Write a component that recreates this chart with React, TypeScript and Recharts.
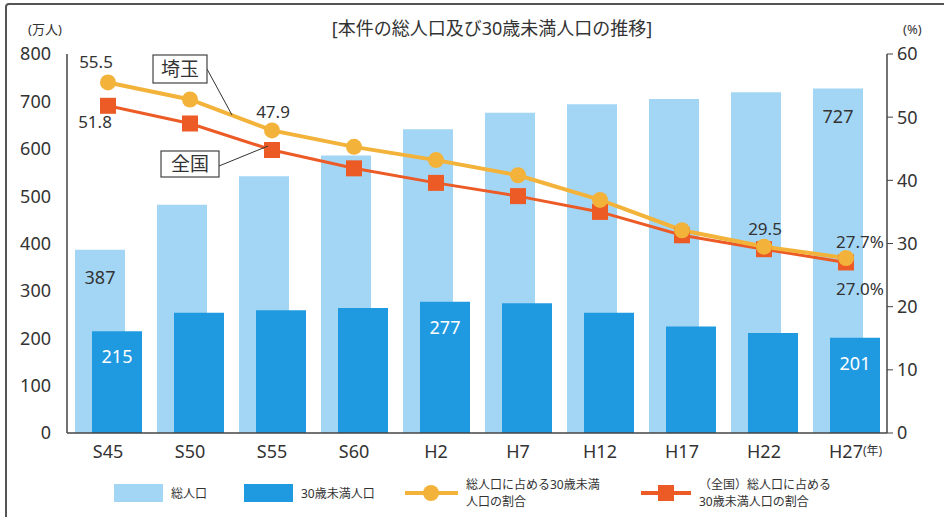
import { ComposedChart, Bar, Line, XAxis, YAxis, LabelList } from 'recharts';

const years = ['S45', 'S50', 'S55', 'S60', 'H2', 'H7', 'H12', 'H17', 'H22', 'H27'];
const totalPop = [387, 482, 542, 586, 641, 676, 694, 705, 719, 727];
const under30Pop = [215, 254, 259, 264, 277, 274, 254, 225, 211, 201];
const saitamaRate = [55.5, 52.8, 47.9, 45.3, 43.2, 40.8, 36.9, 32.1, 29.5, 27.7];
const nationalRate = [51.8, 49.0, 44.8, 41.9, 39.6, 37.5, 35.0, 31.3, 29.1, 27.0];
const leftTicks = [0, 100, 200, 300, 400, 500, 600, 700, 800];
const rightTicks = [0, 10, 20, 30, 40, 50, 60];

const data = years.map((year, i) => ({
  year,
  total: totalPop[i],
  under30: under30Pop[i],
  saitama: saitamaRate[i],
  national: nationalRate[i],
}));

const FONT = '"Noto Sans", "Noto Sans CJK JP", sans-serif';
const LIGHT = '#a3d6f5';
const DARK = '#1f9ae0';
const YELLOW = '#f3b33a';
const ORANGE = '#ec5b26';
const TEXT = '#333';

const last = years.length - 1;

const CircleDot = (props: any) => {
  const { cx, cy } = props;
  if (cx == null || cy == null) return null;
  return <circle cx={cx} cy={cy} r={8} fill={YELLOW} stroke="none" />;
};

const SquareDot = (props: any) => {
  const { cx, cy } = props;
  if (cx == null || cy == null) return null;
  return <rect x={cx - 8} y={cy - 8} width={16} height={16} fill={ORANGE} stroke="none" />;
};

const txt = { fontFamily: FONT, fontWeight: 400 } as const;

const totalLabel = (props: any) => {
  const { x, y, width, value, index } = props;
  if (index !== 0 && index !== last) return null;
  return (
    <text x={x + width / 2} y={y + 34} textAnchor="middle" fontSize={18} fill={TEXT} {...txt}>
      {value}
    </text>
  );
};

const under30Label = (props: any) => {
  const { x, y, width, value, index } = props;
  if (index !== 0 && index !== 4 && index !== last) return null;
  return (
    <text x={x + width / 2} y={y + 32} textAnchor="middle" fontSize={18} fill="#fff" {...txt}>
      {value}
    </text>
  );
};

const saitamaLabel = (props: any) => {
  const { x, y, value, index } = props;
  if (index === 0) {
    return <text x={x - 12} y={y - 14} textAnchor="middle" fontSize={17} fill={TEXT} {...txt}>{value}</text>;
  }
  if (index === 2 || index === 8) {
    return <text x={x + 1} y={y - 12} textAnchor="middle" fontSize={17} fill={TEXT} {...txt}>{value}</text>;
  }
  if (index === last) {
    return <text x={x + 14} y={y - 10} textAnchor="middle" fontSize={17} fill={TEXT} {...txt}>{value}%</text>;
  }
  return null;
};

const nationalLabel = (props: any) => {
  const { x, y, value, index } = props;
  if (index === 0) {
    return <text x={x - 13} y={y + 22} textAnchor="middle" fontSize={17} fill={TEXT} {...txt}>{value.toFixed(1)}</text>;
  }
  if (index === last) {
    return <text x={x + 14} y={y + 33} textAnchor="middle" fontSize={17} fill={TEXT} {...txt}>{value.toFixed(1)}%</text>;
  }
  return null;
};

const LegendItem = ({ left, swatch, label }: { left: number; swatch: any; label: any }) => (
  <div style={{ position: 'absolute', left, top: 0, height: 36, display: 'flex', alignItems: 'center' }}>
    {swatch}
    <div style={{ fontSize: 12, lineHeight: '17px', color: TEXT, marginLeft: 8, whiteSpace: 'nowrap' }}>{label}</div>
  </div>
);

const tickStyle = { fontSize: 18, fill: TEXT, fontFamily: FONT, fontWeight: 400 };

export default function App() {
  return (
    <div
      style={{
        position: 'absolute',
        left: 0,
        top: 0,
        width: 944,
        height: 517,
        background: '#fff',
        fontFamily: FONT,
        fontWeight: 400,
        overflow: 'hidden',
      }}
    >
      <div
        style={{
          position: 'absolute',
          left: 5,
          top: 3,
          width: 950,
          height: 530,
          border: '2px solid #555',
          borderRadius: 4,
          boxSizing: 'border-box',
        }}
      />
      <div style={{ position: 'absolute', left: 0, width: 944, top: 14, textAlign: 'center', fontSize: 18, color: TEXT, paddingLeft: 20 }}>
        [本件の総人口及び30歳未満人口の推移]
      </div>
      <div style={{ position: 'absolute', left: 28, top: 19, fontSize: 13, color: TEXT }}>(万人)</div>
      <div style={{ position: 'absolute', left: 903, top: 20, fontSize: 13, color: TEXT }}>(%)</div>
      <div style={{ position: 'absolute', left: 0, top: 0 }}>
        <ComposedChart
          width={944}
          height={517}
          data={data}
          margin={{ top: 54, right: 7, bottom: 54, left: 20 }}
          barGap={-33}
        >
          <XAxis
            dataKey="year"
            tickLine={false}
            axisLine={{ stroke: '#444', strokeWidth: 1.5 }}
            tick={tickStyle}
            tickMargin={6}
            height={30}
          />
          <YAxis
            yAxisId="left"
            domain={[0, 800]}
            ticks={leftTicks}
            tickLine={false}
            axisLine={{ stroke: '#444', strokeWidth: 1.5 }}
            tick={tickStyle}
            tickMargin={10}
            width={47}
          />
          <YAxis
            yAxisId="right"
            orientation="right"
            domain={[0, 60]}
            ticks={rightTicks}
            tickLine={{ stroke: '#444' }}
            tickSize={6}
            axisLine={{ stroke: '#444', strokeWidth: 1.5 }}
            tick={tickStyle}
            tickMargin={4}
            width={50}
          />
          <Bar yAxisId="left" dataKey="total" fill={LIGHT} barSize={50} isAnimationActive={false}>
            <LabelList dataKey="total" content={totalLabel} />
          </Bar>
          <Bar yAxisId="left" dataKey="under30" fill={DARK} barSize={50} isAnimationActive={false}>
            <LabelList dataKey="under30" content={under30Label} />
          </Bar>
          <Line
            yAxisId="right"
            dataKey="national"
            stroke={ORANGE}
            strokeWidth={3}
            dot={<SquareDot />}
            activeDot={false}
            isAnimationActive={false}
          >
            <LabelList dataKey="national" content={nationalLabel} />
          </Line>
          <Line
            yAxisId="right"
            dataKey="saitama"
            stroke={YELLOW}
            strokeWidth={4}
            dot={<CircleDot />}
            activeDot={false}
            isAnimationActive={false}
          >
            <LabelList dataKey="saitama" content={saitamaLabel} />
          </Line>
        </ComposedChart>
      </div>
      <div style={{ position: 'absolute', left: 863, top: 441, fontSize: 12, color: TEXT }}>(年)</div>
      <svg style={{ position: 'absolute', left: 0, top: 0 }} width={944} height={517}>
        <line x1={207} y1={69} x2={232} y2={115} stroke="#333" strokeWidth={1} />
        <rect x={153} y={55} width={54} height={28} fill="#fff" stroke="#444" strokeWidth={1.2} />
        <text x={180} y={76} textAnchor="middle" fontSize={19} fill={TEXT} {...txt}>埼玉</text>
        <line x1={219} y1={166} x2={268} y2={146} stroke="#333" strokeWidth={1} />
        <rect x={161} y={151} width={58} height={26} fill="#fff" stroke="#444" strokeWidth={1.2} />
        <text x={190} y={171} textAnchor="middle" fontSize={19} fill={TEXT} {...txt}>全国</text>
      </svg>
      <div style={{ position: 'absolute', left: 0, top: 475, width: 944, height: 36 }}>
        <LegendItem left={114} swatch={<div style={{ width: 49, height: 18, background: LIGHT }} />} label="総人口" />
        <LegendItem left={244} swatch={<div style={{ width: 49, height: 18, background: DARK }} />} label="30歳未満人口" />
        <LegendItem
          left={405}
          swatch={
            <svg width={53} height={20}>
              <line x1={0} y1={10} x2={53} y2={10} stroke={YELLOW} strokeWidth={4} />
              <circle cx={26} cy={10} r={8} fill={YELLOW} />
            </svg>
          }
          label={<>総人口に占める30歳未満<br />人口の割合</>}
        />
        <LegendItem
          left={641}
          swatch={
            <svg width={50} height={20}>
              <line x1={0} y1={10} x2={50} y2={10} stroke={ORANGE} strokeWidth={4} />
              <rect x={17} y={2} width={16} height={16} fill={ORANGE} />
            </svg>
          }
          label={<>（全国）総人口に占める<br />30歳未満人口の割合</>}
        />
      </div>
    </div>
  );
}
